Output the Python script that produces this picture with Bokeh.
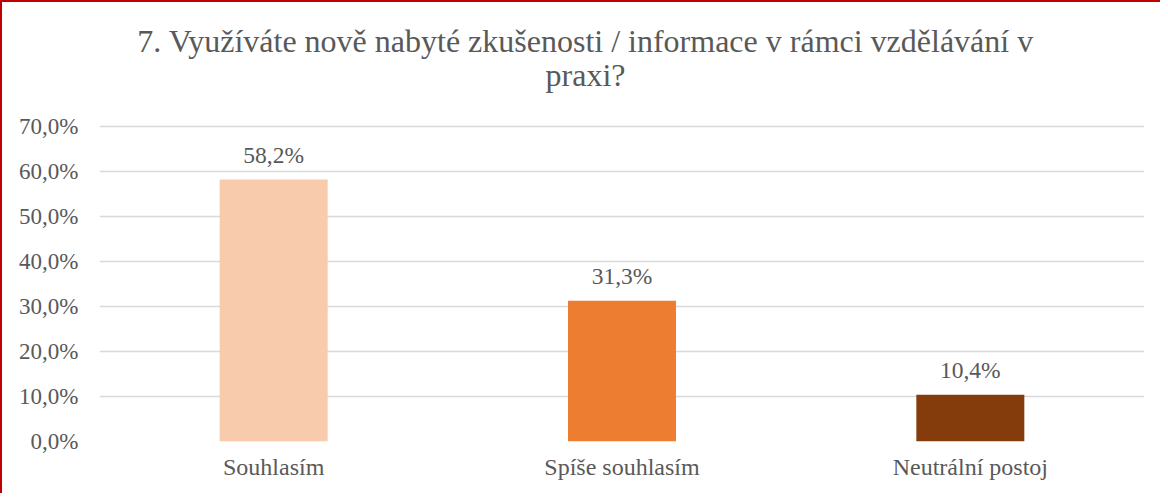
from bokeh.plotting import figure
from bokeh.models import ColumnDataSource, FactorRange, Range1d, FixedTicker, LabelSet, Label
from bokeh.embed import file_html
from bokeh.resources import INLINE

categories = ["Souhlasím", "Spíše souhlasím", "Neutrální postoj"]
values = [58.2, 31.3, 10.4]
bar_colors = ["#F8CBAD", "#ED7D31", "#843C0C"]
y_ticks = [0, 10, 20, 30, 40, 50, 60, 70]
title_line1 = "7. Využíváte nově nabyté zkušenosti / informace v rámci vzdělávání v"
title_line2 = "praxi?"

FONT = "Liberation Serif"
TXT = "#595959"

# layout (pixels)
FRAME_H = 439          # plot frame height, 0..top of figure
PX_PER_UNIT = 4.5      # 10 % = 45 px
Y_END = FRAME_H / PX_PER_UNIT

src = ColumnDataSource(dict(
    cat=categories,
    val=values,
    color=bar_colors,
    lab=[f"{v:.1f}%".replace(".", ",") for v in values],
))

p = figure(
    width=1160, height=493,
    x_range=FactorRange(factors=categories, range_padding=0),
    y_range=Range1d(0, Y_END),
    output_backend="svg", toolbar_location=None,
    min_border_left=97, min_border_right=18, min_border_top=0, min_border_bottom=54,
)
p.title = None
# title lines placed in the headroom above the 70 % gridline
for txt, px_above_zero in ((title_line1, 401), (title_line2, 367)):
    p.add_layout(Label(x=486, x_units="screen", y=px_above_zero / PX_PER_UNIT,
                       text=txt, text_align="center", text_baseline="alphabetic",
                       text_font=FONT, text_font_size="32px", text_color=TXT))

p.vbar(x="cat", top="val", width=0.31, color="color", source=src, line_color=None)

labels = LabelSet(x="cat", y="val", text="lab", source=src, text_align="center",
                  text_baseline="alphabetic", y_offset=17, text_font=FONT,
                  text_font_size="23.5px", text_color=TXT)
p.add_layout(labels)

p.outline_line_color = None
p.xgrid.grid_line_color = None
p.ygrid.grid_line_color = "#D9D9D9"
p.ygrid.grid_line_width = 1.5

p.yaxis.ticker = FixedTicker(ticks=y_ticks)
p.yaxis.major_label_overrides = {v: f"{v:.1f}%".replace(".", ",") for v in y_ticks}
for ax in (p.xaxis, p.yaxis):
    ax.axis_line_color = None
    ax.major_tick_line_color = None
    ax.minor_tick_line_color = None
    ax.major_tick_out = 0
    ax.major_tick_in = 0
    ax.major_label_text_font = FONT
    ax.major_label_text_color = TXT
p.yaxis.major_label_text_font_size = "23px"
p.xaxis.major_label_text_font_size = "24px"
p.yaxis.major_label_standoff = 21
p.xaxis.major_label_standoff = 12

p.styles = {"border-left": "2px solid #C00000", "border-top": "2px solid #C00000"}

open("out.html", "w").write(file_html(p, INLINE))
